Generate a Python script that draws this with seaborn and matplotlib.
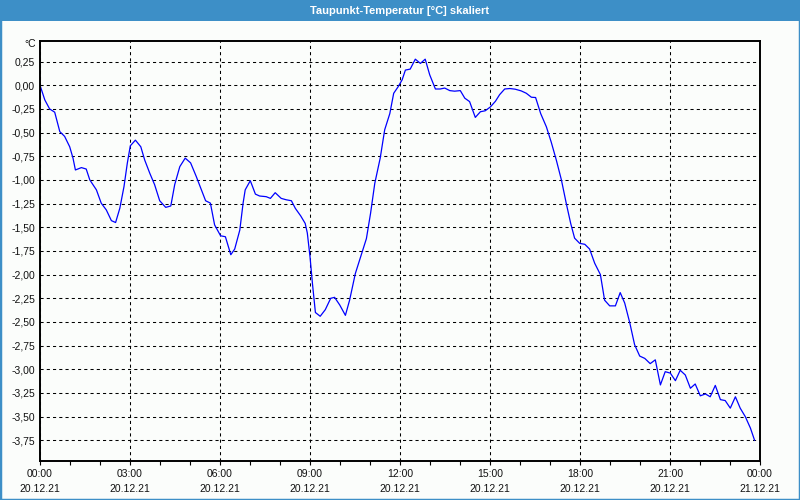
import matplotlib
matplotlib.use("Agg")
import matplotlib.pyplot as plt
from matplotlib.patches import Rectangle
from matplotlib.ticker import MultipleLocator, FixedLocator, FuncFormatter
import seaborn as sns
import pandas as pd

# ---- data ----
hours = [0.00, 0.16, 0.32, 0.49, 0.66, 0.82, 0.99, 1.10, 1.18, 1.38, 1.54, 1.66, 1.88,
         2.04, 2.21, 2.38, 2.52, 2.66, 2.80, 2.91, 3.01, 3.18, 3.36, 3.49, 3.66, 3.82,
         3.99, 4.19, 4.36, 4.49, 4.66, 4.84, 5.02, 5.21, 5.38, 5.52, 5.68, 5.82, 6.02,
         6.18, 6.36, 6.49, 6.66, 6.77, 6.84, 7.01, 7.18, 7.32, 7.54, 7.68, 7.84, 8.04,
         8.21, 8.38, 8.51, 8.69, 8.84, 8.91, 9.00, 9.08, 9.18, 9.34, 9.51, 9.69, 9.82,
         9.99, 10.18, 10.32, 10.51, 10.69, 10.88, 11.02, 11.16, 11.34, 11.49, 11.66,
         11.79, 11.93, 12.07, 12.18, 12.34, 12.51, 12.68, 12.84, 12.99, 13.18, 13.34,
         13.49, 13.66, 13.82, 14.01, 14.16, 14.32, 14.51, 14.68, 14.84, 15.01, 15.18,
         15.32, 15.49, 15.66, 15.84, 16.04, 16.21, 16.38, 16.52, 16.69, 16.88, 17.04,
         17.21, 17.38, 17.54, 17.69, 17.82, 17.99, 18.16, 18.32, 18.49, 18.68, 18.82,
         18.99, 19.18, 19.34, 19.49, 19.66, 19.82, 19.99, 20.16, 20.34, 20.51, 20.68,
         20.84, 21.01, 21.18, 21.34, 21.51, 21.68, 21.84, 22.01, 22.18, 22.34, 22.51,
         22.68, 22.84, 23.01, 23.18, 23.34, 23.51, 23.68, 23.82]
dewpoint = [0.00, -0.155, -0.25, -0.285, -0.49, -0.54, -0.65, -0.77, -0.895, -0.87, -0.885,
            -1.00, -1.105, -1.245, -1.317, -1.43, -1.45, -1.30, -1.07, -0.824, -0.64, -0.58,
            -0.65, -0.79, -0.93, -1.05, -1.22, -1.29, -1.275, -1.05, -0.86, -0.77, -0.82,
            -0.965, -1.105, -1.22, -1.245, -1.475, -1.59, -1.60, -1.79, -1.73, -1.53,
            -1.245, -1.105, -1.008, -1.15, -1.17, -1.177, -1.195, -1.135, -1.195, -1.21,
            -1.22, -1.30, -1.38, -1.46, -1.56, -1.81, -2.09, -2.40, -2.44, -2.37, -2.25,
            -2.24, -2.32, -2.43, -2.27, -1.99, -1.81, -1.62, -1.35, -1.035, -0.77, -0.47,
            -0.30, -0.085, -0.02, 0.056, 0.16, 0.17, 0.275, 0.23, 0.275, 0.11, -0.04,
            -0.04, -0.03, -0.057, -0.063, -0.057, -0.137, -0.173, -0.34, -0.28, -0.27,
            -0.23, -0.17, -0.10, -0.04, -0.035, -0.042, -0.06, -0.085, -0.127, -0.13,
            -0.30, -0.44, -0.60, -0.79, -1.00, -1.245, -1.46, -1.615, -1.67, -1.68, -1.73,
            -1.88, -2.00, -2.27, -2.33, -2.33, -2.19, -2.30, -2.51, -2.74, -2.86, -2.885,
            -2.94, -2.90, -3.165, -3.025, -3.04, -3.12, -3.01, -3.06, -3.20, -3.155, -3.28,
            -3.26, -3.29, -3.17, -3.32, -3.33, -3.41, -3.29, -3.41, -3.50, -3.62, -3.75]

x_tick_hours = [0, 3, 6, 9, 12, 15, 18, 21, 24]
x_tick_labels = ["00:00\n20.12.21", "03:00\n20.12.21", "06:00\n20.12.21", "09:00\n20.12.21",
                 "12:00\n20.12.21", "15:00\n20.12.21", "18:00\n20.12.21", "21:00\n20.12.21",
                 "00:00\n21.12.21"]
y_ticks = [0.25, 0.00, -0.25, -0.50, -0.75, -1.00, -1.25, -1.50, -1.75, -2.00, -2.25,
           -2.50, -2.75, -3.00, -3.25, -3.50, -3.75]
title = "Taupunkt-Temperatur [°C] skaliert"
unit = "°C"

df = pd.DataFrame({"h": hours, "v": dewpoint})

sns.set_theme(style="white")
plt.rcParams["font.family"] = ["Liberation Sans", "DejaVu Sans"]

BLUE = "#3d8fc7"
BG = "#fbfdfb"
fig = plt.figure(figsize=(8, 5), dpi=100, facecolor=BG)
ax = fig.add_axes([40 / 800, 1 - 460.7 / 500, 720 / 800, 420 / 500])
ax.set_facecolor(BG)

sns.lineplot(data=df, x="h", y="v", ax=ax, color="#0000ff", linewidth=0.9)

ax.set_xlim(0, 24)
ax.set_ylim(-3.965, 0.47)

ax.set_xticks(x_tick_hours)
ax.set_xticklabels(x_tick_labels, linespacing=1.6)
ax.xaxis.set_minor_locator(MultipleLocator(1))
ax.yaxis.set_major_locator(FixedLocator(y_ticks))
ax.yaxis.set_major_formatter(FuncFormatter(lambda v, p: f"{v:.2f}".replace(".", ",")))

ax.tick_params(axis="x", which="both", direction="out", length=3, width=0.8,
               color="black", labelsize=7.5, labelcolor="#111111", pad=3, bottom=True)
ax.tick_params(axis="y", which="both", length=0, labelsize=7.5, labelcolor="#111111", pad=3.5)

ax.grid(True, which="major", color="black", linestyle=(0, (3, 3)), linewidth=0.75)
for s in ax.spines.values():
    s.set_visible(True)
    s.set_color("black")
    s.set_linewidth(1.4)
ax.set_xlabel("")
ax.set_ylabel("")

# unit label
fig.text(36 / 800, 1 - 44 / 500, unit, ha="right", va="center", fontsize=7.5, color="#111111")

# title bar
fig.patches.append(Rectangle((0, 1 - 20.7 / 500), 1, 20.7 / 500, transform=fig.transFigure,
                             facecolor=BLUE, edgecolor="none", zorder=0))
fig.text(0.5, 1 - 10.5 / 500, title, ha="center", va="center", fontsize=8, color="white",
         fontweight="bold")
# outer border
fig.patches.append(Rectangle((0, 0), 1, 1, transform=fig.transFigure, facecolor="none",
                             edgecolor=BLUE, linewidth=2.5, zorder=5))

fig.savefig("out.png", dpi=100, facecolor=fig.get_facecolor())
